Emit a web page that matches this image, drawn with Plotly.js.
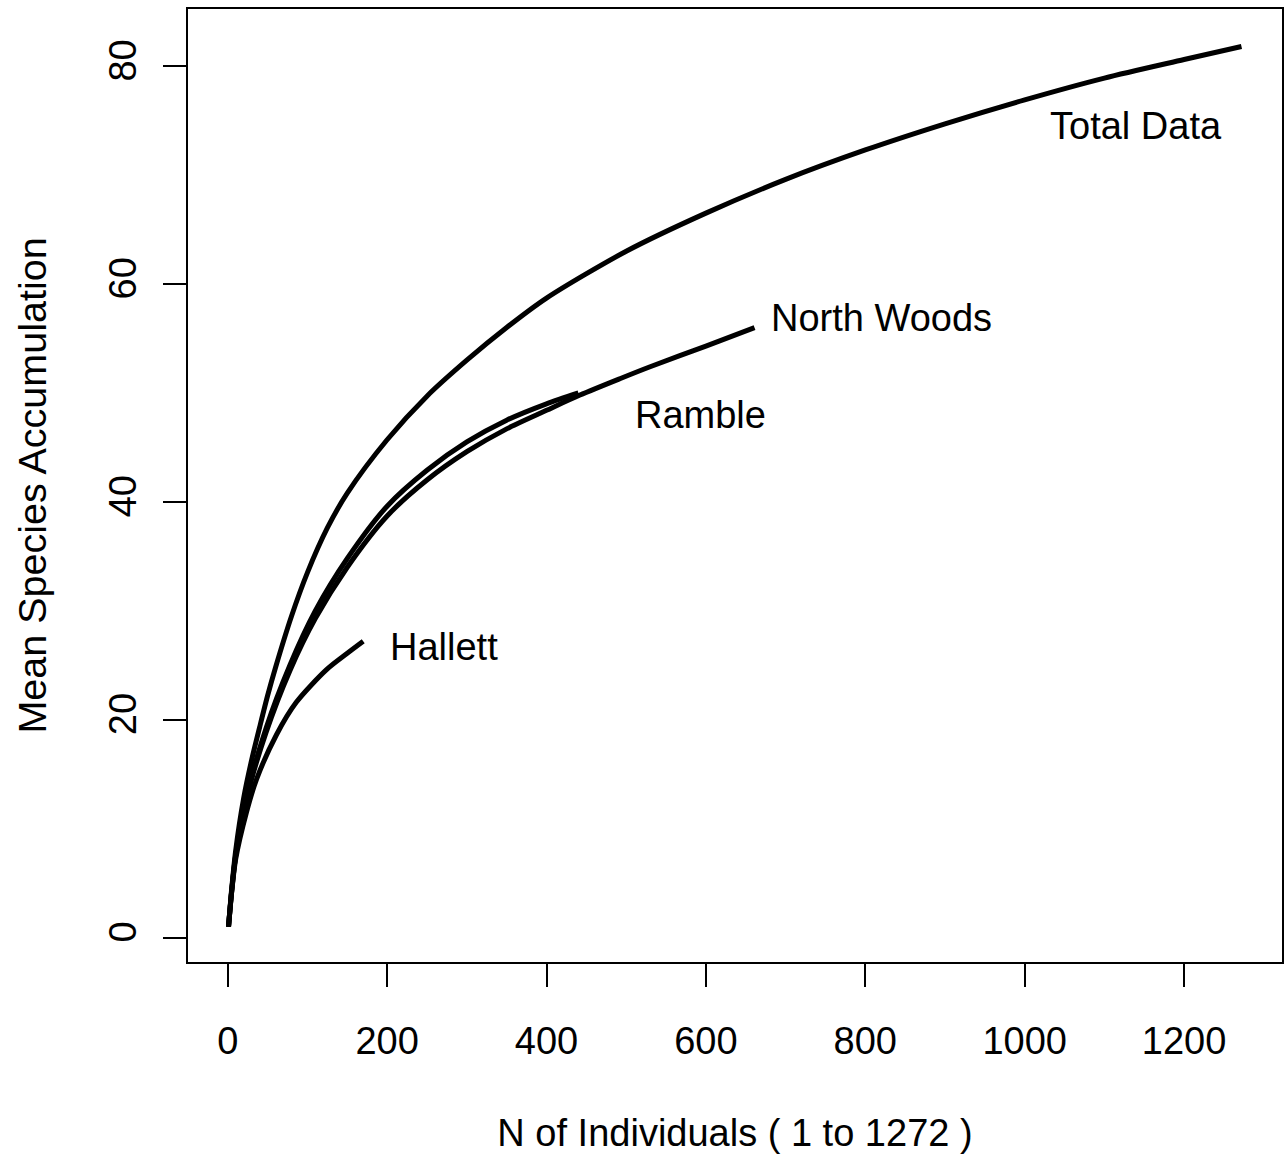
<!DOCTYPE html>
<html>
<head>
<meta charset="utf-8">
<script src="https://cdn.plot.ly/plotly-3.0.1.min.js"></script>
<style>html,body{margin:0;padding:0;background:#fff;}#chart{width:1284px;height:1156px;}</style>
</head>
<body>
<div id="chart"></div>
<script>
// Individuals (x) and mean species accumulated (y) for each site
const totalN = [1, 5, 10, 20, 30, 40, 50, 60, 80, 100, 125, 150, 200, 250, 300, 350, 400, 500, 600, 700, 800, 900, 1000, 1100, 1200, 1272];
const totalS = [1, 4.5, 8, 12.8, 16.3, 19.3, 22.2, 24.8, 29.5, 33.5, 37.6, 40.8, 45.7, 49.7, 53, 56, 58.7, 63, 66.5, 69.6, 72.3, 74.7, 76.9, 78.9, 80.6, 81.8];

const rambleN = [1, 5, 10, 23, 48, 78, 110, 150, 200, 250, 300, 350, 400, 440];
const rambleS = [1, 4.3, 7.6, 12.8, 19.2, 25, 30, 34.8, 39.6, 42.9, 45.5, 47.5, 49, 50];

const northN = [1, 5, 10, 23, 48, 78, 110, 150, 200, 250, 300, 350, 400, 442, 492, 530, 600, 661];
const northS = [1, 4.3, 7.5, 12.6, 18.8, 24.5, 29.3, 34, 38.7, 42, 44.6, 46.7, 48.4, 49.8, 51.3, 52.4, 54.3, 56];

const hallettN = [1, 5, 10, 23.5, 36, 61, 86, 124, 150, 170];
const hallettS = [1, 4.2, 7.2, 11.5, 14.5, 18.6, 21.6, 24.6, 26.1, 27.2];

const labelText = ["Total Data", "North Woods", "Ramble", "Hallett"];
const labelX = [1029, 679, 508, 201];
const labelY = [74.5, 56.9, 48.0, 26.7];

const xTicks = [0, 200, 400, 600, 800, 1000, 1200];
const yTicks = [0, 20, 40, 60, 80];

const FONT = "Liberation Sans, Arial, sans-serif";
const lineStyle = {color: "#000", width: 5, shape: "spline", smoothing: 0.8};

const traces = [
  {x: totalN, y: totalS, name: "Total Data"},
  {x: northN, y: northS, name: "North Woods"},
  {x: rambleN, y: rambleS, name: "Ramble"},
  {x: hallettN, y: hallettS, name: "Hallett"}
].map(t => Object.assign(t, {type: "scatter", mode: "lines", line: lineStyle, hoverinfo: "skip"}));

const annotations = labelText.map((t, i) => ({
  text: t, x: labelX[i], y: labelY[i], xref: "x", yref: "y",
  xanchor: "left", yanchor: "middle", showarrow: false,
  font: {family: FONT, size: 38, color: "#000"}
}));

const axisCommon = {
  showgrid: false, zeroline: false, showline: true, mirror: true,
  linecolor: "#000", linewidth: 2, ticks: "outside", ticklen: 23, tickwidth: 2, tickcolor: "#000",
  tickfont: {family: FONT, size: 38, color: "#000"}, automargin: false
};

const layout = {
  width: 1284, height: 1156,
  margin: {l: 188, r: 2, t: 9, b: 194},
  paper_bgcolor: "#fff", plot_bgcolor: "#fff",
  showlegend: false,
  font: {family: FONT, size: 38, color: "#000"},
  xaxis: Object.assign({}, axisCommon, {
    range: [-49.84, 1322.84], tickmode: "array", tickvals: xTicks,
    ticktext: xTicks.map(String), ticklabelstandoff: 21,
    title: {text: "N of Individuals ( 1 to 1272 )", font: {family: FONT, size: 38, color: "#000"}, standoff: 59}
  }),
  yaxis: Object.assign({}, axisCommon, {
    range: [-2.24, 85.24], tickmode: "array", tickvals: yTicks,
    ticktext: yTicks.map(String), tickangle: -90, ticklabelstandoff: 12,
    title: {text: "Mean Species Accumulation", font: {family: FONT, size: 39.5, color: "#000"}, standoff: 43}
  }),
  annotations: annotations
};

Plotly.newPlot("chart", traces, layout, {displayModeBar: false, staticPlot: true});
</script>
</body>
</html>
